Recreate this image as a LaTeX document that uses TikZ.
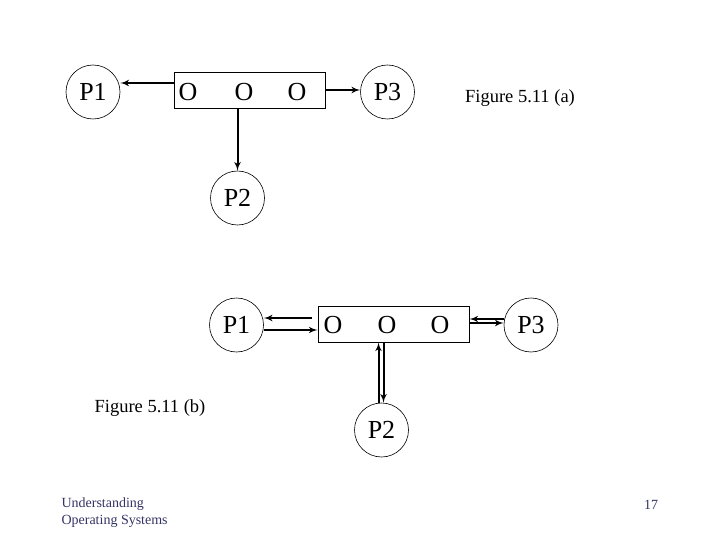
\documentclass[tikz,border=0pt]{standalone}
\usepackage{fontspec}
\setmainfont{Liberation Serif}
\usepackage{tikz}
\usetikzlibrary{shapes,arrows}

\begin{document}
\begin{tikzpicture}[x=1pt, y=-1pt, auto]
        % Styles
        \tikzstyle{proc} = [circle, draw, line width=0.6pt, minimum size=54pt, inner sep=0pt, font=\fontsize{26}{29}\selectfont]
        \tikzstyle{buf} = [rectangle, draw, line width=0.8pt, minimum width=151pt, minimum height=36pt]
        \tikzstyle{slot} = [font=\fontsize{26}{29}\selectfont, inner sep=0pt]
        \tikzstyle{line} = [draw, line width=2pt, -latex']
        \tikzstyle{caption} = [font=\fontsize{18.5}{21}\selectfont]
        \tikzstyle{footer} = [font=\fontsize{14}{17}\selectfont, text=footblue, align=left]
        \definecolor{footblue}{RGB}{51,51,102}

        \useasboundingbox (0,0) rectangle (720,540);

        % Nodes: figure (a)
        \node [proc] (p1a) at (93,92) {P1};
        \node [buf] (bufa) at (249.5,90) {};
        \node [slot] (oa1) at (188,92) {O};
        \node [slot] (oa2) at (244,92) {O};
        \node [slot] (oa3) at (297,92) {O};
        \node [proc] (p3a) at (387.5,92) {P3};
        \node [proc] (p2a) at (237.5,198) {P2};
        \node [caption] (capa) at (520,98) {Figure 5.11 (a)};

        % Nodes: figure (b)
        \node [proc] (p1b) at (236.5,325) {P1};
        \node [buf] (bufb) at (393.5,324) {};
        \node [slot] (ob1) at (333,325) {O};
        \node [slot] (ob2) at (387,325) {O};
        \node [slot] (ob3) at (440,325) {O};
        \node [proc] (p3b) at (531,325) {P3};
        \node [proc] (p2b) at (381.5,430) {P2};
        \node [caption] (capb) at (150,408) {Figure 5.11 (b)};

        % Footer
        \node [footer, anchor=north west] (course) at (58,494) {Understanding\\Operating Systems};
        \node [footer] (page) at (651,505) {17};

        % Edges: figure (a)
        \path [line] ([yshift=7pt]bufa.west) -- ([yshift=7pt]bufa.west -| p1a.east);
        \path [line] (bufa.east) -- (bufa.east -| p3a.west);
        \path [line] (p2a |- bufa.south) -- (p2a.north);

        % Edges: figure (b)
        \path [line] ([xshift=-6pt, yshift=6pt]bufb.west) -- ([yshift=6pt]bufb.west -| p1b.east);
        \path [line] ([yshift=-6pt]bufb.west -| p1b.east) -- ([yshift=-6pt]bufb.west);
        \path [line] ([yshift=6pt]p3b.west) -- ([yshift=6pt]p3b.west -| bufb.east);
        \path [line] ([yshift=1pt]bufb.east) -- ([yshift=1pt]bufb.east -| p3b.west);
        \path [line] ([xshift=-3pt]p2b.north) -- ([xshift=-3pt]p2b.north |- bufb.south);
        \path [line] ([xshift=2pt]p2b.north |- bufb.south) -- ([xshift=2pt]p2b.north);
\end{tikzpicture}
\end{document}
